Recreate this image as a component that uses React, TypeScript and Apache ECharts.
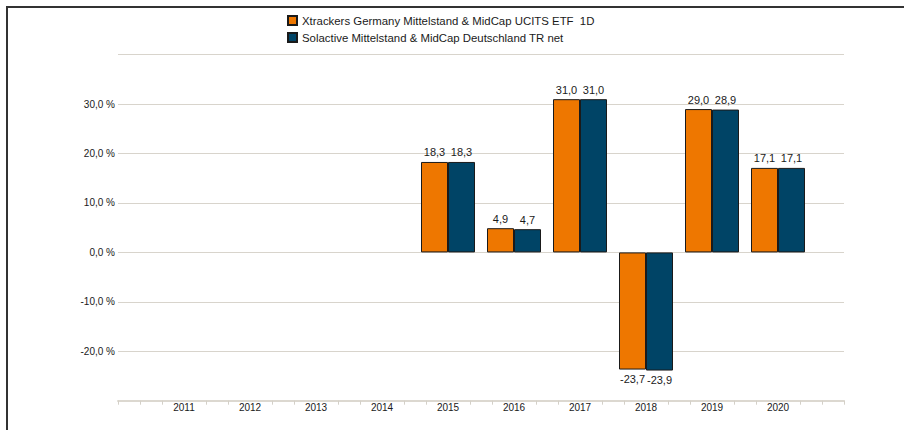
import React, { useEffect, useRef } from "react";
import * as echarts from "echarts";

const years = [2015, 2016, 2017, 2018, 2019, 2020];
const etfValues = [18.3, 4.9, 31.0, -23.7, 29.0, 17.1];
const indexValues = [18.3, 4.7, 31.0, -23.9, 28.9, 17.1];
const seriesNames = [
  "Xtrackers Germany Mittelstand & MidCap UCITS ETF  1D",
  "Solactive Mittelstand & MidCap Deutschland TR net",
];
const xMin = 2010;
const xMax = 2021;
const yMin = -30;
const yMax = 40;

const FONT = "'Liberation Sans', Arial, sans-serif";
const fmt = (v: number) => v.toFixed(1).replace(".", ",");

function buildData(values: number[]) {
  return values.map((v, i) => ({
    value: [years[i], v],
    label: { position: v < 0 ? "bottom" : "top" },
  }));
}

export default function App() {
  const ref = useRef<HTMLDivElement>(null);
  useEffect(() => {
    document.body.style.margin = "0";
    if (!ref.current) return;
    const chart = echarts.init(ref.current, null, { renderer: "svg" });
    const labelCfg = {
      show: true,
      distance: 4,
      fontSize: 11,
      color: "#1a1a1a",
      fontFamily: FONT,
      formatter: (p: any) => fmt(p.value[1]),
    };
    chart.setOption({
      animation: false,
      backgroundColor: "#fff",
      textStyle: { fontFamily: FONT },
      graphic: [
        {
          type: "rect",
          shape: { x: 7, y: 7, width: 1200, height: 1200 },
          style: { fill: "none", stroke: "#333", lineWidth: 2 },
          silent: true,
        },
      ],
      legend: {
        orient: "vertical",
        left: 282,
        top: 10,
        itemWidth: 9,
        itemHeight: 9,
        itemGap: 6,
        icon: "rect",
        textStyle: { fontSize: 11.4, color: "#1a1a1a", fontFamily: FONT },
        data: seriesNames,
      },
      grid: { left: 118, right: 60, top: 54.7, bottom: 29.3 },
      xAxis: [
        {
          type: "value",
          min: xMin,
          max: xMax,
          interval: 1,
          position: "bottom",
          axisLine: { show: true, onZero: false, lineStyle: { color: "#dcd8d0", width: 2 } },
          axisTick: { show: false },
          minorTick: { show: true, splitNumber: 3, length: 4, lineStyle: { color: "#d4d0c8", width: 1 } },
          splitLine: { show: false },
          axisLabel: {
            margin: 2,
            fontSize: 10,
            color: "#1a1a1a",
            fontFamily: FONT,
            formatter: (v: number) => (v > xMin && v < xMax ? String(v) : ""),
          },
        },
        {
          type: "value",
          min: 0,
          max: 1,
          interval: 1,
          position: "top",
          offset: -346,
          axisLine: { show: false },
          axisTick: { show: true, inside: true, length: 4, lineStyle: { color: "#d4d0c8", width: 1 } },
          axisLabel: { show: false },
          splitLine: { show: false },
        },
      ],
      yAxis: {
        type: "value",
        min: yMin,
        max: yMax,
        interval: 10,
        axisLine: { show: false },
        axisTick: { show: false },
        splitLine: { show: true, lineStyle: { color: "#d8d4cc", width: 1 } },
        axisLabel: {
          margin: 3,
          fontSize: 10,
          color: "#1a1a1a",
          fontFamily: FONT,
          formatter: (v: number) => (v === yMin || v === yMax ? "" : fmt(v) + " %"),
        },
      },
      series: [
        {
          name: seriesNames[0],
          type: "bar",
          xAxisIndex: 0,
          barWidth: 27,
          barGap: "0%",
          itemStyle: { color: "#ee7700", borderColor: "#1a1a1a", borderWidth: 1 },
          label: labelCfg,
          data: buildData(etfValues),
        },
        {
          name: seriesNames[1],
          type: "bar",
          xAxisIndex: 0,
          barWidth: 27,
          barGap: "0%",
          itemStyle: { color: "#004466", borderColor: "#1a1a1a", borderWidth: 1 },
          label: labelCfg,
          data: buildData(indexValues),
        },
      ],
    });
    return () => chart.dispose();
  }, []);
  return <div ref={ref} style={{ width: 904, height: 430 }} />;
}
